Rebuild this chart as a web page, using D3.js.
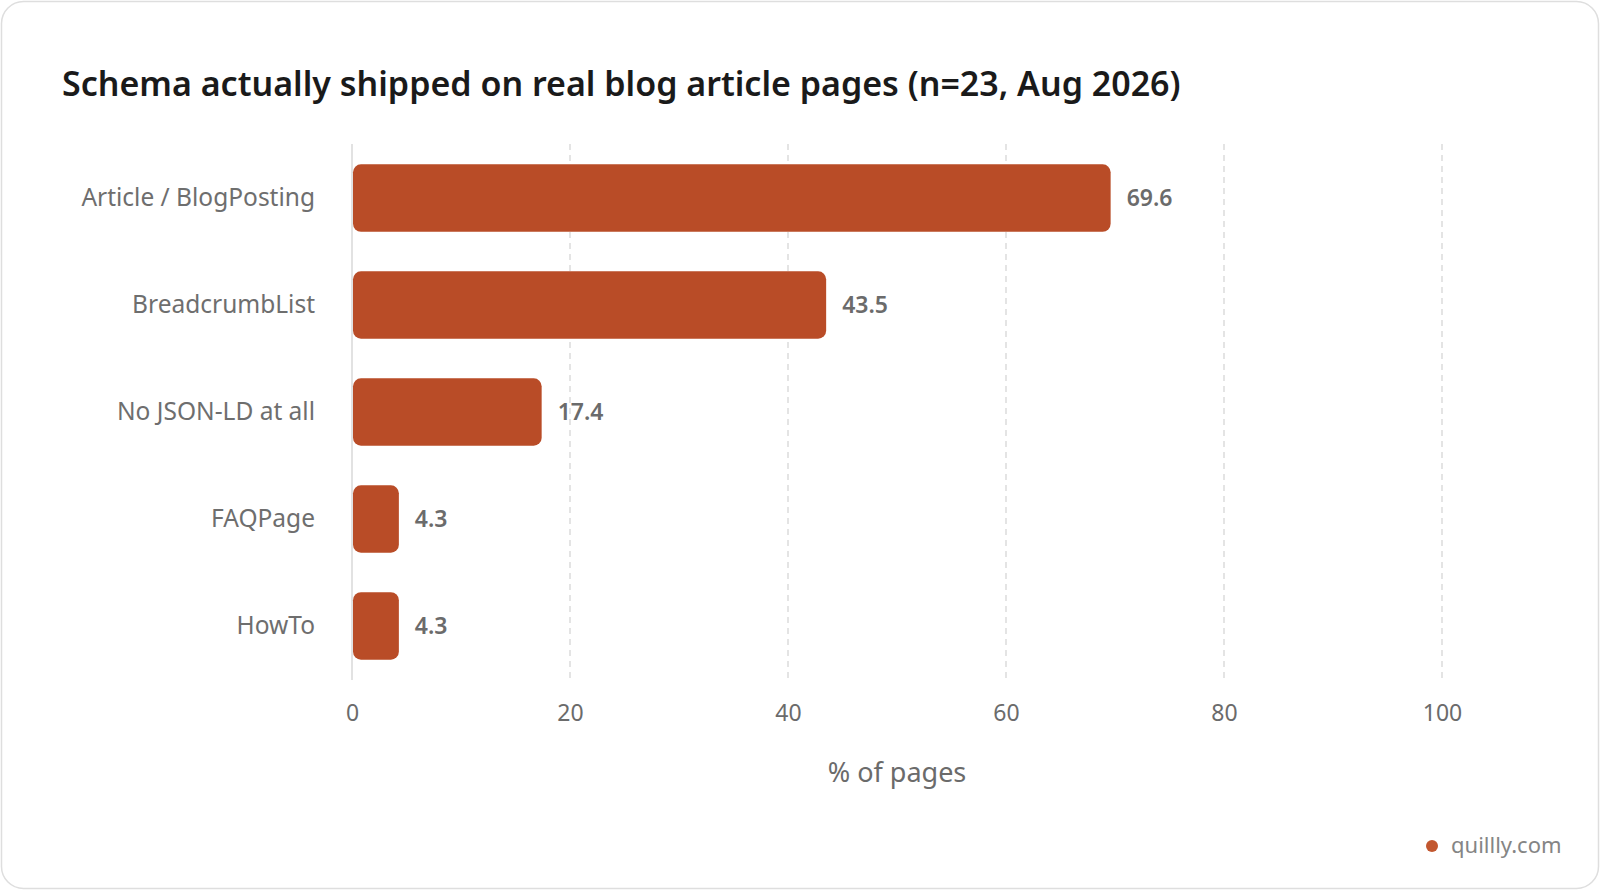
<!DOCTYPE html>
<html>
<head>
<meta charset="utf-8">
<script src="https://cdn.jsdelivr.net/npm/d3@7"></script>
<style>
  html, body { margin: 0; padding: 0; background: #ffffff; }
  svg { display: block; font-family: "Noto Sans", "Open Sans", sans-serif; }
</style>
</head>
<body>
<svg id="chart" width="1600" height="890"></svg>
<script>
const categories = ["Article / BlogPosting", "BreadcrumbList", "No JSON-LD at all", "FAQPage", "HowTo"];
const values = [69.6, 43.5, 17.4, 4.3, 4.3];
const xTicks = [0, 20, 40, 60, 80, 100];
const titleText = "Schema actually shipped on real blog article pages (n=23, Aug 2026)";
const xAxisTitle = "% of pages";
const sourceText = "quillly.com";

const svg = d3.select("#chart");

svg.append("rect")
  .attr("x", 1.5).attr("y", 1.5)
  .attr("width", 1597).attr("height", 887)
  .attr("rx", 22)
  .attr("fill", "#ffffff")
  .attr("stroke", "#dedede")
  .attr("stroke-width", 1.5);

svg.append("text")
  .attr("x", 62).attr("y", 96)
  .attr("font-size", 34)
  .attr("font-weight", 600)
  .attr("fill", "#1a1a1a")
  .text(titleText);

const x = d3.scaleLinear().domain([0, 100]).range([352, 1442]);
const y = d3.scaleBand().domain(categories).range([144, 680]).paddingInner(0.37).paddingOuter(0.19);

// gridlines
svg.append("g").selectAll("line")
  .data(xTicks.filter(t => t !== 0))
  .join("line")
  .attr("x1", d => x(d)).attr("x2", d => x(d))
  .attr("y1", 144).attr("y2", 680)
  .attr("stroke", "#dcdcdc")
  .attr("stroke-width", 1.5)
  .attr("stroke-dasharray", "6,5");

// zero axis line
svg.append("line")
  .attr("x1", x(0)).attr("x2", x(0))
  .attr("y1", 144).attr("y2", 680)
  .attr("stroke", "#d9d9d9")
  .attr("stroke-width", 1.5);

// x axis tick labels
const xAxis = d3.axisBottom(x).tickValues(xTicks).tickSize(0).tickPadding(0).tickFormat(d3.format("d"));
const gx = svg.append("g").attr("transform", "translate(0,704)").call(xAxis);
gx.select(".domain").remove();
gx.selectAll("text")
  .attr("dy", "0.72em")
  .attr("font-size", 23)
  .attr("font-family", "\"Noto Sans\", sans-serif")
  .attr("fill", "#6b6b6b");

svg.append("text")
  .attr("x", 897).attr("y", 782)
  .attr("text-anchor", "middle")
  .attr("font-size", 27)
  .attr("fill", "#6b6b6b")
  .text(xAxisTitle);

// bars
const data = categories.map((c, i) => ({ c, v: values[i] }));
svg.append("g").selectAll("rect")
  .data(data)
  .join("rect")
  .attr("x", x(0) + 1)
  .attr("y", d => y(d.c))
  .attr("width", d => x(d.v) - x(0) - 1)
  .attr("height", y.bandwidth())
  .attr("rx", 8)
  .attr("fill", "#b94c27");

// category labels
svg.append("g").selectAll("text")
  .data(data)
  .join("text")
  .attr("x", 315)
  .attr("y", d => y(d.c) + y.bandwidth() / 2 + 8)
  .attr("text-anchor", "end")
  .attr("font-size", 24.5)
  .attr("fill", "#6e6e6e")
  .text(d => d.c);

// value labels
svg.append("g").selectAll("text")
  .data(data)
  .join("text")
  .attr("x", d => x(d.v) + 16)
  .attr("y", d => y(d.c) + y.bandwidth() / 2 + 8)
  .attr("font-size", 23)
  .attr("font-weight", 600)
  .attr("fill", "#6b6b6b")
  .text(d => d3.format(".1f")(d.v));

// source
svg.append("circle")
  .attr("cx", 1432).attr("cy", 846).attr("r", 6)
  .attr("fill", "#c2572f");
svg.append("text")
  .attr("x", 1451).attr("y", 853)
  .attr("font-size", 22)
  .attr("fill", "#858585")
  .text(sourceText);
</script>
</body>
</html>
